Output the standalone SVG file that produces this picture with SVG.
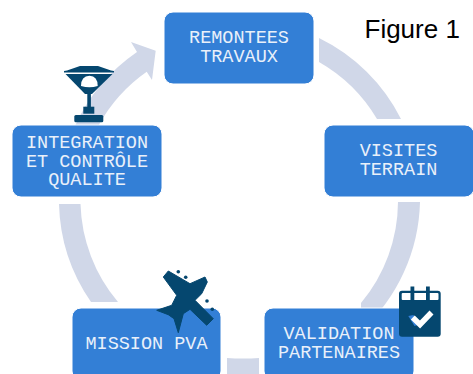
<svg xmlns="http://www.w3.org/2000/svg" width="473" height="374" viewBox="0 0 473 374">
<style>
.n{fill:#337FD6;stroke:#fff;stroke-width:1}
.t{font-family:"Liberation Mono",monospace;font-size:18.5px;fill:#E9F0FA;text-anchor:middle}
.a{fill:#D0D7E8}
.i{fill:#05476F}
</style>
<rect width="473" height="374" fill="#fff"/>
<g id="connectors">
<path class="a" d="M319 38A180 180 0 0 1 401 119L377 119A159 159 0 0 0 319 62Z"/>
<path class="a" d="M420 202A180 180 0 0 1 361 331L361 303A159 159 0 0 0 398 202Z" />
<path class="a" d="M259 358L259 379L227 379L227 358Q243 359 259 358Z"/>
<path class="a" d="M118 302A159 159 0 0 1 80.500 204L59 204A180 180 0 0 0 91 302Z"/>
<path class="a" d="M75.500 125A180 180 0 0 1 137 52L131 42L155.700 50.700L152 80L146.700 71.700A159 159 0 0 0 98.800 125Z"/>
</g>
<g id="node-remontees"><rect class="n" x="164" y="12" width="150" height="72" rx="9"/><text class="t" x="239" y="43">REMONTEES</text><text class="t" x="239" y="62">TRAVAUX</text></g>
<g id="node-visites"><rect class="n" x="324" y="125" width="150" height="72" rx="9"/><text class="t" x="398.500" y="156">VISITES</text><text class="t" x="398.500" y="175">TERRAIN</text></g>
<g id="node-validation"><rect class="n" x="264" y="308" width="150" height="72" rx="9"/><text class="t" x="339" y="339">VALIDATION</text><text class="t" x="339" y="358">PARTENAIRES</text></g>
<g id="node-mission"><rect class="n" x="72" y="308" width="149" height="72" rx="9"/><text class="t" x="146.500" y="349">MISSION PVA</text></g>
<g id="node-integration"><rect class="n" x="12" y="125" width="150" height="72" rx="9"/><text class="t" x="87" y="147.500">INTEGRATION</text><text class="t" x="87" y="166.500">ET CONTRÔLE</text><text class="t" x="87" y="185">QUALITE</text></g>
<g id="icon-trophy">
<path class="i" d="M80 66L98 66L111 70.500L114 71L114 72.500L64 72.500L64 71L67 70.500Z"/>
<path class="i" d="M65.500 74L112.500 74L92 94L85 94Z"/>
<path fill="#fff" d="M81 86Q81 76 89.500 75.700Q97.700 76 97.700 86Q89.500 88.500 81 86Z"/>
<rect class="i" x="87.300" y="94" width="3.600" height="13"/>
<rect class="i" x="83.300" y="106.700" width="11" height="7"/>
<rect class="i" x="74.300" y="115" width="29" height="7.300" rx="1.500"/>
</g>
<g id="icon-plane">
<path class="i" stroke="#05476F" stroke-width="1" stroke-linejoin="round" d="M163.300 277L168.300 271L190 283.700L205 277L207.300 282L201.700 293.700L195 300.300L213.300 318.700L206.700 325.300L190 309.300L183.300 313.700L178.300 332.700L174 318.700L168.300 314.700L156.700 310.300L171.700 305.300L176.700 295.300Z"/>
<circle class="i" cx="178.300" cy="271.700" r="1.800"/><circle class="i" cx="185.700" cy="277.300" r="1.800"/><circle class="i" cx="207" cy="301" r="1.800"/><circle class="i" cx="212.300" cy="309.300" r="1.800"/>
</g>
<g id="icon-calendar">
<rect class="i" x="399" y="290.700" width="41.700" height="46" rx="3"/>
<rect fill="#fff" x="401.700" y="293" width="36.800" height="7" rx="1"/>
<rect class="i" x="410.500" y="286.500" width="3.800" height="14"/>
<rect class="i" x="426" y="286.500" width="3.800" height="14"/>
<path fill="#337FD6" d="M408.300 316L413.500 315L418 325L414.500 326Z"/>
<path fill="none" stroke="#fff" stroke-width="5.500" d="M412.800 317.500L420 324.500L431.500 312.500"/>
</g>
<text id="figure-title" x="364.500" y="38" font-family="'Liberation Sans',Arial,sans-serif" font-size="26" fill="#000">Figure 1</text>
</svg>
